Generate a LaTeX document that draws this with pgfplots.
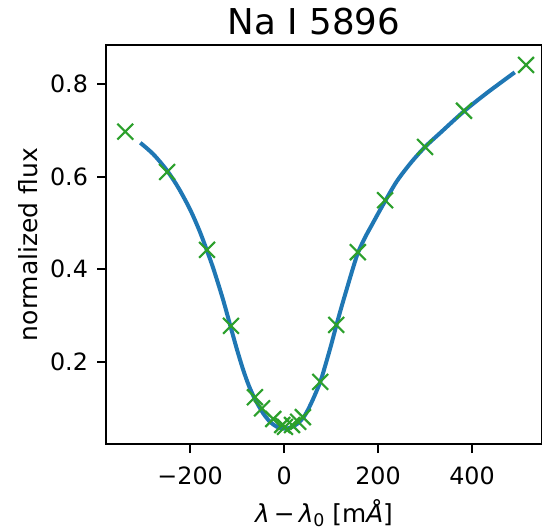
\documentclass[border=0pt]{standalone}
\usepackage{pgfplots}
\pgfplotsset{compat=1.18}
\usepackage{fontspec}
\setmainfont{DejaVu Sans}
\definecolor{tabblue}{HTML}{1F77B4}
\definecolor{tabgreen}{HTML}{2CA02C}
\begin{document}
\begin{tikzpicture}
\begin{axis}[
  scale only axis,
  width=218pt, height=199.5pt,
  xmin=-379, xmax=549,
  ymin=0.023, ymax=0.884,
  axis line style={line width=0.9pt},
  tick style={line width=0.9pt, black},
  tick align=outside,
  major tick length=4.5pt,
  xtick={-200,0,200,400},
  xticklabels={−200,0,200,400},
  ytick={0.2,0.4,0.6,0.8},
  yticklabels={0.2,0.4,0.6,0.8},
  xtick pos=bottom, ytick pos=left,
  ticklabel style={font=\fontsize{11.9}{14}\selectfont},
  xticklabel style={yshift=-3.5pt},
  yticklabel style={xshift=-1pt},
  title={Na I 5896},
  title style={font=\fontsize{17.8}{20}\selectfont, at={(axis description cs:0.5,1)}, anchor=base, yshift=-1pt, xshift=-5pt},
  xlabel={\textit{λ}\,−\,\textit{λ}\raisebox{-0.3ex}{\fontsize{8.7}{10}\selectfont 0} [m\textit{Å}]},
  xlabel style={font=\fontsize{12.4}{14}\selectfont, at={(axis description cs:0.5,0)}, anchor=base, yshift=-39pt},
  every axis y label/.style={at={(axis description cs:-0.158,0.5)}, rotate=90, anchor=base},
  ylabel={normalized flux},
  ylabel style={font=\fontsize{12.5}{14}\selectfont},
  clip=false,
]
\addplot[tabblue, line width=2pt, smooth, no marks] coordinates {
(-306,0.673) (-278,0.648) (-249,0.613) (-225,0.576) (-200,0.529) (-180,0.483)
(-164,0.440) (-150,0.400) (-130,0.335) (-113,0.273) (-100,0.226) (-87,0.183)
(-75,0.149) (-62,0.120) (-45,0.090) (-30,0.071) (-15,0.060) (0,0.056)
(15,0.059) (30,0.068) (45,0.086) (60,0.116) (77,0.157) (87,0.190)
(100,0.236) (111,0.278) (122,0.318) (133,0.356) (145,0.397) (157,0.435)
(172,0.468) (187,0.496) (200,0.520) (215,0.547) (240,0.590) (270,0.630)
(300,0.664) (332,0.694) (383,0.741) (431,0.780) (491,0.825)
};
\addplot[only marks, mark=x, mark size=5.6pt, tabgreen, mark options={line width=1.1pt}] coordinates {
(-338,0.697) (-249,0.610) (-164,0.442) (-113,0.278) (-62,0.124) (-47,0.100)
(-23,0.077) (-4,0.064) (2,0.060) (17,0.064) (30,0.071) (40,0.081)
(77,0.157) (111,0.280) (157,0.437) (215,0.549) (300,0.664) (383,0.742)
(515,0.841)
};
\end{axis}
\pgfresetboundingbox
\useasboundingbox ([shift={(-53pt,-42.5pt)}]current axis.south west) rectangle ([shift={(0pt,22.5pt)}]current axis.north east);
\end{tikzpicture}
\end{document}
